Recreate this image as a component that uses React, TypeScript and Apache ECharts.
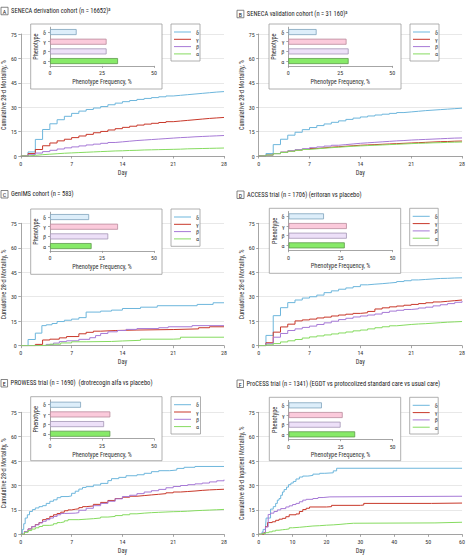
import React, { useEffect, useRef } from "react";
import * as echarts from "echarts";

// ---------- DATA ----------
const phenotypes = ["δ", "γ", "β", "α"];
const barCategories = ["α", "β", "γ", "δ"];
const days28 = [0, 1, 2, 3, 4, 5, 6, 7, 8, 9, 10, 11, 12, 13, 14, 15, 16, 17, 18, 19, 20, 21, 22, 23, 24, 25, 26, 27, 28];
const xTicksDay28 = [0, 7, 14, 21, 28];
const xTicksDay60 = [0, 10, 20, 30, 40, 50, 60];

const panelLetters = ["A", "B", "C", "D", "E", "F"];
const panelTitles = [
  "SENECA derivation cohort (n = 16652)",
  "SENECA validation cohort (n = 31 160)",
  "GenIMS cohort (n = 583)",
  "ACCESS trial (n = 1706) (eritoran vs placebo)",
  "PROWESS trial (n = 1690)  (drotrecogin alfa vs placebo)",
  "ProCESS trial (n = 1341) (EGDT vs protocolized standard care vs usual care)",
];
const panelSup = ["a", "a", "", "", "", ""];
const yNames = [
  "Cumulative 28-d Mortality, %",
  "Cumulative 28-d Mortality, %",
  "Cumulative 28-d Mortality, %",
  "Cumulative 28-d Mortality, %",
  "Cumulative 28-d Mortality, %",
  "Cumulative 60-d Inpatient Mortality, %",
];

// phenotype frequency, % (order δ, γ, β, α)
const freqA = [12.8, 27.2, 27.2, 32.7];
const freqB = [13.6, 28, 29, 29];
const freqC = [18.8, 32.7, 28, 20];
const freqD = [17, 28, 28, 27];
const freqE = [14.9, 29, 26, 29];
const freqF = [16, 26, 25, 32];

// A: SENECA derivation (daily values, day 0..28)
const A_delta = [0, 2.5, 10.2, 16.3, 19.8, 22.3, 24.4, 26.2, 27.6, 28.6, 29.5, 30.4, 31.5, 32.5, 33.4, 34.1, 34.8, 35.4, 35.9, 36.4, 36.9, 37.3, 37.7, 38.1, 38.5, 38.9, 39.3, 39.6, 40.0];
const A_gamma = [0, 1.5, 4, 6.3, 8, 9.3, 10.3, 11.3, 12.3, 13.3, 14.3, 15.1, 16, 16.8, 17.6, 18.3, 19, 19.6, 20.1, 20.6, 21.1, 21.5, 21.9, 22.3, 22.7, 23.1, 23.4, 23.7, 24];
const A_beta = [0, 0.8, 1.8, 2.7, 3.5, 4.3, 5, 5.6, 6.2, 6.8, 7.3, 7.8, 8.3, 8.7, 9.1, 9.5, 9.8, 10.1, 10.4, 10.7, 11, 11.3, 11.5, 11.8, 12, 12.2, 12.4, 12.6, 12.8];
const A_alpha = [0, 0.4, 0.8, 1.1, 1.4, 1.7, 1.9, 2.1, 2.3, 2.5, 2.7, 2.9, 3.1, 3.2, 3.4, 3.5, 3.7, 3.8, 3.9, 4, 4.1, 4.2, 4.4, 4.5, 4.6, 4.7, 4.8, 4.9, 5];

// B: SENECA validation (daily values)
const B_delta = [0, 1.5, 7, 10.3, 12.8, 14.6, 16.2, 17.5, 18.7, 19.7, 20.7, 21.6, 22.5, 23.3, 24, 24.6, 25.2, 25.7, 26.2, 26.7, 27.1, 27.5, 27.9, 28.2, 28.5, 28.8, 29.1, 29.4, 29.6];
const B_gamma = [0, 0.6, 1.5, 2.3, 3, 3.6, 4.1, 4.6, 5, 5.4, 5.7, 6, 6.3, 6.6, 6.8, 7, 7.2, 7.4, 7.6, 7.8, 8, 8.2, 8.4, 8.6, 8.8, 8.9, 9.1, 9.2, 9.3];
const B_beta = [0, 0.6, 1.5, 2.4, 3.2, 3.9, 4.5, 5.1, 5.6, 6.1, 6.6, 7, 7.4, 7.8, 8.1, 8.4, 8.7, 9, 9.3, 9.5, 9.8, 10, 10.2, 10.4, 10.6, 10.8, 11, 11.1, 11.2];
const B_alpha = [0, 0.6, 1.4, 2.2, 2.9, 3.5, 4, 4.4, 4.8, 5.1, 5.4, 5.7, 6, 6.2, 6.4, 6.6, 6.8, 7, 7.2, 7.4, 7.6, 7.8, 7.9, 8.1, 8.2, 8.4, 8.5, 8.6, 8.7];

// C: GenIMS ([day, %] event points)
const C_delta = [[0, 0], [1, 3.8], [2, 7.7], [2.9, 12.3], [3.5, 12.8], [4.3, 13.6], [5, 14.8], [6, 15.6], [7, 16.3], [8, 17.2], [9, 20.6], [11, 21.2], [12.5, 21.8], [14, 22.8], [16.5, 23.6], [18.8, 24.5], [24.3, 25.3], [26.5, 26.3], [28, 26.3]];
const C_gamma = [[0, 0], [2, 0.8], [3, 3.5], [4, 4], [5.3, 4.8], [6.3, 5.6], [8, 7.3], [9, 8.2], [10, 8.9], [11, 9.3], [13, 9.6], [16, 9.9], [21, 10.3], [24.5, 11], [26, 11.6], [28, 11.6]];
const C_beta = [[0, 0], [3.5, 0.8], [4.5, 1.6], [5.3, 2.5], [6.3, 3], [8, 3.9], [9.5, 4.9], [10.3, 6.2], [11, 7.5], [12, 8.5], [13.3, 9.3], [14.5, 10], [16, 10.5], [19, 11], [20.3, 11.6], [23.6, 12.3], [28, 12.3]];
const C_alpha = [[0, 0], [2.5, 0.4], [4, 0.9], [5.5, 1.7], [7, 2.4], [9, 2.6], [12.5, 2.9], [14, 3.3], [16.5, 4], [21, 4.2], [22, 5.2], [28, 5.2]];

// D: ACCESS (daily values)
const D_delta = [0, 6.3, 18.4, 23.3, 26.4, 28, 29.2, 30, 31, 32.5, 33.6, 34.6, 35.4, 36.2, 37.3, 37.7, 38, 38.4, 38.8, 39.3, 39.8, 40.3, 40.6, 40.9, 41.2, 41.3, 41.5, 41.6, 41.7];
const D_gamma = [0, 1.8, 8.3, 11.5, 13.2, 15.2, 15.8, 16.3, 17, 17.5, 18.2, 18.8, 19.3, 19.8, 20.2, 21, 22.5, 23.2, 23.8, 24.3, 24.8, 25.3, 25.8, 26.3, 26.8, 27.2, 27.6, 28, 28.3];
const D_beta = [0, 1.2, 5.2, 7.5, 9.3, 10.3, 11.2, 12, 13, 14, 15, 16, 16.8, 17.6, 18.2, 18.8, 19.4, 20.4, 21.2, 21.7, 22.2, 22.6, 23.1, 23.6, 24.4, 25.1, 25.8, 26.6, 27.3];
const D_alpha = [0, 0.5, 1.3, 2.3, 3, 3.8, 4.7, 5.4, 6, 6.6, 7.2, 7.8, 8.4, 9.1, 9.6, 10.3, 11, 11.6, 12.2, 12.6, 13, 13.3, 13.5, 13.8, 14.1, 14.4, 14.6, 14.8, 15];

// E: PROWESS ([day, %] event points)
const E_delta = [[0, 0], [0.2, 3], [0.4, 6.5], [0.6, 10], [0.9, 12], [1.2, 14], [1.6, 15.2], [2, 16.2], [2.5, 17], [3, 17.6], [3.5, 19], [4, 20.3], [4.5, 21.2], [5, 22.5], [5.5, 23.2], [6.5, 23.6], [7, 25.2], [7.5, 26.5], [8, 27.8], [8.5, 28.8], [9, 29.3], [10, 30.3], [11, 31.3], [12, 33], [12.5, 34.2], [13.5, 35], [14.5, 36], [16, 36.6], [17, 37.5], [18, 38.5], [19, 39.1], [20.5, 39.5], [21.5, 40.5], [22.5, 41.2], [24, 41.7], [28, 41.9]];
const E_gamma = [[0, 0], [0.5, 1.7], [1, 3.3], [1.5, 4.7], [2, 6], [2.5, 7.2], [3, 9], [3.5, 9.6], [4, 11], [4.5, 12], [5, 12.8], [5.5, 13.6], [6, 14.5], [6.5, 15], [7, 15.4], [7.5, 15.7], [8, 16.4], [8.5, 17], [9, 17.4], [10, 18.4], [11, 19.6], [12, 20.8], [13, 22], [14, 22.8], [15, 23.4], [16, 23.8], [17, 24.2], [18, 24.6], [19, 25], [20, 25.5], [21, 26], [22, 26.3], [23, 26.6], [24, 27], [25, 27.3], [26, 27.5], [27, 27.7], [28, 27.9]];
const E_beta = [[0, 0], [0.5, 1.7], [1, 3.3], [1.5, 4.7], [2, 5.8], [2.5, 7], [3, 8], [3.5, 9], [4, 10], [4.5, 11], [5, 12], [5.5, 12.8], [6, 13], [7.5, 13.3], [8, 14.8], [9, 16], [10, 17.6], [11, 19], [12, 20.3], [13, 21.8], [14, 23.2], [15, 24], [16, 25], [17, 26], [18, 26.8], [19, 27.6], [20, 28.6], [21, 29.4], [22, 30], [23, 30.5], [24, 31], [25, 31.5], [26, 32.2], [27, 32.9], [28, 33.6]];
const E_alpha = [[0, 0], [0.5, 1.2], [1, 2.3], [1.5, 3.2], [2, 4], [2.5, 4.8], [3, 5.5], [4, 5.8], [4.5, 6.5], [5, 7.2], [5.5, 7.6], [6, 8.3], [6.5, 9], [8, 9.3], [9, 9.6], [10, 10], [11, 10.6], [12, 11], [13, 11.5], [14, 12], [15, 12.6], [16, 13], [17, 13.3], [18, 13.5], [19, 13.7], [20, 13.9], [21, 14], [22, 14.2], [23, 14.5], [24, 14.7], [25, 14.9], [26, 15.1], [27, 15.3], [28, 15.6]];

// F: ProCESS ([day, %] event points, 60 days)
const F_delta = [[0, 0], [1, 1.5], [1.3, 3], [2, 4], [2.2, 10], [3.5, 15.5], [4.3, 17], [5, 19], [5.5, 21], [6, 22], [6.5, 24], [7, 26], [7.5, 27.5], [8.2, 29], [8.8, 30.5], [9.5, 31.5], [10.2, 32.5], [11, 34], [12, 35.2], [13, 35.8], [14.5, 36.2], [16, 37], [18, 37.5], [19.5, 37.8], [22, 39], [23, 40.6], [60, 40.6]];
const F_gamma = [[0, 0], [1.5, 1], [2, 4.7], [2.6, 7.2], [4, 7.7], [5, 8.6], [6, 9.3], [7, 9.8], [8, 10.8], [9, 12], [11, 12.5], [12, 14], [13, 15.2], [14, 16], [15, 16.8], [20, 17], [21.5, 17.8], [30, 18], [31, 19], [51, 19.2], [60, 19.2]];
const F_beta = [[0, 0], [1, 0.8], [2, 4.5], [2.8, 12.2], [3.5, 13], [4.5, 14], [5.5, 15], [6.5, 15.8], [8, 16.8], [9, 17.5], [10, 18.3], [11, 19], [12, 20], [13, 21], [14, 21.5], [16, 22], [17.5, 22.6], [19, 23], [21, 23.4], [60, 23.4]];
const F_alpha = [[0, 0], [1, 0.5], [2, 1], [3, 1.5], [4, 2], [5, 2.5], [6, 2.8], [7, 3], [8, 3.3], [9, 4], [10, 4.3], [12, 4.7], [14, 5.1], [16, 5.3], [18, 5.6], [20, 5.8], [22, 6.1], [24, 6.5], [26, 6.8], [28, 7], [52, 7.4], [60, 7.4]];

// ---------- STYLE / LAYOUT ----------
const FF = "'Liberation Sans Narrow', 'Roboto Condensed', Roboto, sans-serif";
const lineColors = ["#6db6dc", "#c8382a", "#a679d6", "#86db60"]; // δ γ β α
const barFills = ["#ddeefa", "#fbcadb", "#ede0f8", "#87ea68"]; // δ γ β α
const barBorders = ["#7fa3bd", "#b98a9c", "#a395b5", "#5f9a4c"];

type Layout = { plot: number[]; inset: number[]; legend: number[]; title: number[] };
const layouts: Layout[] = [
  { plot: [20.7, 34, 203.3, 122], inset: [30.7, 24, 131.3, 65], legend: [171, 24, 29, 37], title: [1, 7] },
  { plot: [258.7, 34, 204.3, 122], inset: [269, 24, 132, 65], legend: [410, 24, 29, 37], title: [237, 10] },
  { plot: [20, 223.3, 204, 122.4], inset: [30.7, 209, 131.3, 65.3], legend: [171, 209, 29, 37.3], title: [1, 190.5] },
  { plot: [258.7, 223.3, 204.3, 122.4], inset: [269.3, 208.3, 131.4, 65], legend: [409.7, 208.3, 28.5, 37.4], title: [237, 191] },
  { plot: [20, 412.3, 204, 122], inset: [30.7, 396.7, 131.3, 64], legend: [171, 396.7, 29.5, 37.3], title: [1, 379.5] },
  { plot: [258.7, 412.3, 204.3, 122], inset: [269.3, 397.3, 131.4, 63.4], legend: [409.7, 397.3, 28.5, 36.7], title: [237, 380] },
];

const panelFreqs = [freqA, freqB, freqC, freqD, freqE, freqF];
const panelSeries: (number[] | number[][])[][] = [
  [A_delta, A_gamma, A_beta, A_alpha],
  [B_delta, B_gamma, B_beta, B_alpha],
  [C_delta, C_gamma, C_beta, C_alpha],
  [D_delta, D_gamma, D_beta, D_alpha],
  [E_delta, E_gamma, E_beta, E_alpha],
  [F_delta, F_gamma, F_beta, F_alpha],
];
const panelXTicks = [xTicksDay28, xTicksDay28, xTicksDay28, xTicksDay28, xTicksDay28, xTicksDay60];

function toPairs(s: number[] | number[][]): number[][] {
  if (Array.isArray(s[0])) return s as number[][];
  return (s as number[]).map((v, i) => [days28[i], v]);
}

const axisGray = "#8f8f8f";
const txt = "#333";

function buildOption() {
  const grid: any[] = [];
  const xAxis: any[] = [];
  const yAxis: any[] = [];
  const series: any[] = [];
  const legend: any[] = [];
  const title: any[] = [];
  const elements: any[] = [];

  layouts.forEach((L, i) => {
    const gMain = i * 2;
    const gIn = i * 2 + 1;
    const ticks = panelXTicks[i];
    const xMax = ticks[ticks.length - 1];
    const xInt = ticks[1] - ticks[0];

    grid.push({ left: L.plot[0], top: L.plot[1], width: L.plot[2], height: L.plot[3] });
    grid.push({ left: L.inset[0] + 19.3, top: L.inset[1] + 3.2, width: 104, height: 38.7 });

    xAxis.push({
      gridIndex: gMain, type: "value", min: 0, max: xMax, interval: xInt,
      axisLine: { show: true, lineStyle: { color: axisGray, width: 0.8 } },
      axisTick: { show: true, length: 2.5, lineStyle: { color: axisGray, width: 0.8 } },
      axisLabel: { fontSize: 6, color: txt, margin: 4, fontFamily: FF },
      splitLine: { show: false },
      name: "Day", nameLocation: "middle", nameGap: 13.5,
      nameTextStyle: { fontSize: 6.3, color: txt, fontFamily: FF },
    });
    yAxis.push({
      gridIndex: gMain, type: "value", min: 0, max: 75, interval: 15,
      axisLine: { show: true, lineStyle: { color: axisGray, width: 0.8 } },
      axisTick: { show: true, length: 2.5, lineStyle: { color: axisGray, width: 0.8 } },
      axisLabel: { fontSize: 6, color: txt, margin: 4, fontFamily: FF },
      splitLine: { show: true, lineStyle: { color: "#e2e2e2", width: 0.8 } },
      name: yNames[i], nameLocation: "middle", nameGap: 13,
      nameTextStyle: { fontSize: 6.3, color: txt, fontFamily: FF },
    });

    xAxis.push({
      gridIndex: gIn, type: "value", min: 0, max: 50, interval: 25, z: 5,
      axisLine: { show: true, lineStyle: { color: axisGray, width: 0.8 } },
      axisTick: { show: true, length: 2, lineStyle: { color: axisGray, width: 0.8 } },
      axisLabel: { fontSize: 6, color: txt, margin: 4, fontFamily: FF },
      splitLine: { show: false },
      name: "Phenotype Frequency, %", nameLocation: "middle", nameGap: 13,
      nameTextStyle: { fontSize: 6.3, color: txt, fontFamily: FF },
    });
    yAxis.push({
      gridIndex: gIn, type: "category", data: barCategories, z: 5,
      axisLine: { show: true, lineStyle: { color: axisGray, width: 0.8 } },
      axisTick: { show: true, length: 2, alignWithLabel: true, lineStyle: { color: axisGray, width: 0.8 } },
      axisLabel: { fontSize: 6, color: txt, margin: 4, fontFamily: FF },
      name: "Phenotype", nameLocation: "middle", nameGap: 9.5,
      nameTextStyle: { fontSize: 6.3, color: txt, fontFamily: FF },
    });

    const freqs = panelFreqs[i];
    series.push({
      type: "bar", name: "freq" + i, xAxisIndex: gIn, yAxisIndex: gIn, z: 5, barWidth: 6,
      data: barCategories.map((c) => {
        const k = phenotypes.indexOf(c);
        return { value: freqs[k], itemStyle: { color: barFills[k], borderColor: barBorders[k], borderWidth: 0.8 } };
      }),
    });

    panelSeries[i].forEach((s, k) => {
      series.push({
        type: "line", name: phenotypes[k], xAxisIndex: gMain, yAxisIndex: gMain,
        step: "end", symbol: "none", showSymbol: false,
        lineStyle: { color: lineColors[k], width: 1 }, itemStyle: { color: lineColors[k] },
        data: toPairs(s),
      });
    });

    legend.push({
      orient: "vertical", left: L.legend[0] + 3, top: L.legend[1] + 4.5,
      icon: "rect", itemWidth: 17, itemHeight: 1, itemGap: 0.3, padding: 0, selectedMode: false, z: 6,
      textStyle: { fontSize: 6, color: txt, lineHeight: 7, fontFamily: FF },
      data: phenotypes,
    });

    elements.push({
      type: "rect", z: 3,
      shape: { x: L.inset[0], y: L.inset[1], width: L.inset[2], height: L.inset[3] },
      style: { fill: "#fff", stroke: "#9c9c9c", lineWidth: 0.8 },
    });
    elements.push({
      type: "rect", z: 3,
      shape: { x: L.legend[0], y: L.legend[1], width: L.legend[2], height: L.legend[3] },
      style: { fill: "#fff", stroke: "#9c9c9c", lineWidth: 0.8 },
    });

    title.push({
      left: L.title[0], top: L.title[1], padding: 0,
      text: "{b|" + panelLetters[i] + "}  {t|" + panelTitles[i] + "}" + (panelSup[i] ? "{s|" + panelSup[i] + "}" : ""),
      textStyle: {
        fontFamily: FF, fontSize: 6.5, fontWeight: "normal", color: "#222",
        rich: {
          b: { fontSize: 6, fontFamily: FF, color: "#222", borderColor: "#666", borderWidth: 0.8, padding: [1, 1.8, 0.5, 1.8] },
          t: { fontSize: 6.5, fontFamily: FF, color: "#222" },
          s: { fontSize: 4.5, fontFamily: FF, color: "#222", verticalAlign: "top", padding: [0, 0, 3, 0] },
        },
      },
    });
  });

  return {
    animation: false,
    backgroundColor: "#fff",
    textStyle: { fontFamily: FF },
    title, grid, xAxis, yAxis, series, legend,
    graphic: { elements },
  };
}

export default function App() {
  const ref = useRef<HTMLDivElement>(null);
  useEffect(() => {
    if (!ref.current) return;
    const chart = echarts.init(ref.current, undefined, { renderer: "svg" });
    chart.setOption(buildOption());
    return () => chart.dispose();
  }, []);
  return <div ref={ref} style={{ position: "absolute", left: 0, top: 0, width: 468, height: 559 }} />;
}
